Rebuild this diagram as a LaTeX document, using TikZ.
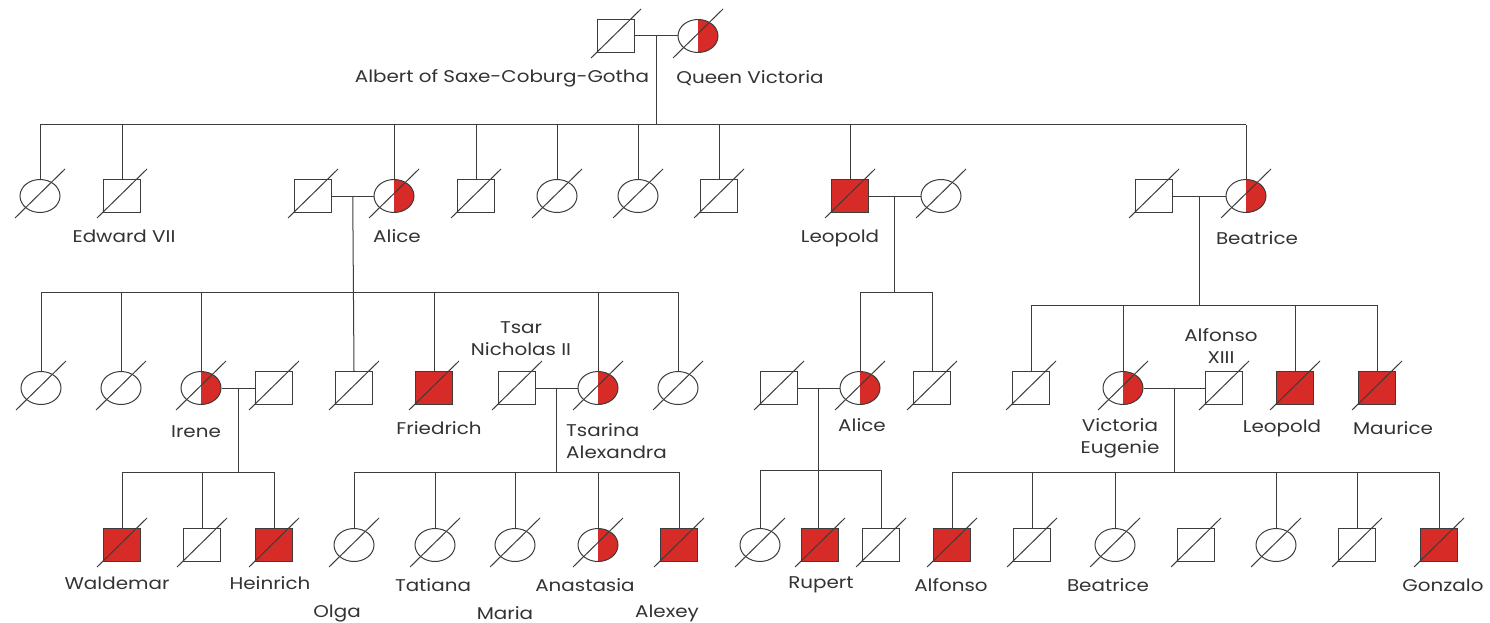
\documentclass[tikz,border=0pt]{standalone}
\usepackage{fontspec}
\newfontfamily\pedfont[FakeStretch=1.17]{Poppins}
\usetikzlibrary{shapes.geometric,positioning}
\definecolor{hemred}{RGB}{214,43,38}
\definecolor{linegray}{RGB}{60,60,60}
\tikzset{
  person/.style={draw=linegray, line width=1pt, inner sep=0pt},
  male/.style={person, rectangle, minimum width=37, minimum height=33},
  female/.style={person, ellipse, minimum width=40, minimum height=33},
  affected/.style={fill=hemred},
  carrier/.style={path picture={\fill[hemred] (path picture bounding box.north) rectangle (path picture bounding box.south east);}},
  lbl/.style={font=\pedfont\fontsize{17}{22}\selectfont, text=black!80, inner sep=0pt},
  link/.style={draw=linegray, line width=1pt},
}
\begin{document}
\begin{tikzpicture}[x=1pt,y=-1pt]
\fill[white] (0,0) rectangle (1490,623);
\useasboundingbox (0,0) rectangle (1490,623);
% generation I
\node[male] (albert) at (616,36) {};
\node[female,carrier] (victoria) at (698,36) {};
\node[lbl] (lalbert) at (502,78) {Albert of Saxe-Coburg-Gotha};
\node[lbl] (lvictoria) at (750,78) {Queen Victoria};
\draw[link] (albert) -- (victoria) coordinate[midway] (m1);
% generation II
\node[female] (g2a) at (40,196) {};
\node[male] (edward) at (122,196) {};
\node[male] (louis) at (313,196) {};
\node[female,carrier] (alice) at (394,196) {};
\node[male] (g2b) at (476,196) {};
\node[female] (g2c) at (557,196) {};
\node[female] (g2d) at (638,196) {};
\node[male] (g2e) at (719,196) {};
\node[male,affected] (leopold) at (850,196) {};
\node[female] (helena) at (941,196) {};
\node[male] (henry) at (1154,196) {};
\node[female,carrier] (beatrice) at (1246,196) {};
\node[lbl] (ledward) at (124,236) {Edward VII};
\node[lbl] (lalice) at (397,236) {Alice};
\node[lbl] (lleopold) at (840,238) {Leopold};
\node[lbl] (lbeatrice) at (1257,238) {Beatrice};
\coordinate (b2) at (0,125);
\draw[link] (m1) -- (m1 |- b2);
\draw[link] (g2a.north |- b2) -- (beatrice.north |- b2);
\foreach \c in {g2a,edward,alice,g2b,g2c,g2d,g2e,leopold,beatrice}
  \draw[link] (\c.north) -- (\c.north |- b2);
\draw[link] (louis) -- (alice) coordinate[midway] (m2);
\draw[link] (leopold) -- (helena) coordinate[midway] (m3);
\draw[link] (henry) -- (beatrice) coordinate[midway] (m4);
% generation III
\node[female] (g3a) at (41,388) {};
\node[female] (g3b) at (121,388) {};
\node[female,carrier] (irene) at (201,388) {};
\node[male] (heinrichp) at (274,388) {};
\node[male] (g3c) at (354,388) {};
\node[male,affected] (friedrich) at (434,388) {};
\node[male] (nicholas) at (517,388) {};
\node[female,carrier] (alexandra) at (598,388) {};
\node[female] (g3d) at (678,388) {};
\node[male] (andrew) at (779,388) {};
\node[female,carrier] (alice2) at (860,388) {};
\node[male] (g3e) at (932,388) {};
\node[male] (g3f) at (1031,388) {};
\node[female,carrier] (vicenie) at (1123,388) {};
\node[male] (alfonsoxiii) at (1224,388) {};
\node[male,affected] (leopold2) at (1295,388) {};
\node[male,affected] (maurice) at (1377,388) {};
\node[lbl] (lirene) at (196,432) {Irene};
\node[lbl] (lfriedrich) at (439,428) {Friedrich};
\node[lbl, align=center] (lnicholas) at (521,339) {Tsar\\Nicholas II};
\node[lbl, align=left, anchor=west] (lalexandra) at (566,441) {Tsarina\\Alexandra};
\node[lbl] (lalice2) at (862,425) {Alice};
\node[lbl, align=center] (lalfonsoxiii) at (1221,346) {Alfonso\\XIII};
\node[lbl, align=center] (lvicenie) at (1120,438) {Victoria\\Eugenie};
\node[lbl] (lleopold2) at (1282,428) {Leopold};
\node[lbl] (lmaurice) at (1393,428) {Maurice};
\coordinate (b3a) at (0,292);
\coordinate (b3b) at (0,305);
\draw[link] (m2) -- (g3c.north);
\draw[link] (g3a.north |- b3a) -- (g3d.north |- b3a);
\foreach \c in {g3a,g3b,irene,friedrich,alexandra,g3d}
  \draw[link] (\c.north) -- (\c.north |- b3a);
\draw[link] (m3) -- (m3 |- b3a);
\draw[link] (alice2.north |- b3a) -- (g3e.north |- b3a);
\foreach \c in {alice2,g3e}
  \draw[link] (\c.north) -- (\c.north |- b3a);
\draw[link] (m4) -- (m4 |- b3b);
\draw[link] (g3f.north |- b3b) -- (maurice.north |- b3b);
\foreach \c in {g3f,vicenie,leopold2,maurice}
  \draw[link] (\c.north) -- (\c.north |- b3b);
\draw[link] (irene) -- (heinrichp) coordinate[midway] (m5);
\draw[link] (nicholas) -- (alexandra) coordinate[midway] (m6);
\draw[link] (andrew) -- (alice2) coordinate[midway] (m7);
\draw[link] (vicenie) -- (alfonsoxiii) coordinate[midway] (m8);
% generation IV
\node[male,affected] (waldemar) at (122,545) {};
\node[male] (g4a) at (202,545) {};
\node[male,affected] (heinrich) at (274,545) {};
\node[female] (olga) at (354,545) {};
\node[female] (tatiana) at (435,545) {};
\node[female] (maria) at (515,545) {};
\node[female,carrier] (anastasia) at (598,545) {};
\node[male,affected] (alexey) at (679,545) {};
\node[female] (g4b) at (760,545) {};
\node[male,affected] (rupert) at (820,545) {};
\node[male] (g4c) at (881,545) {};
\node[male,affected] (alfonso) at (952,545) {};
\node[male] (g4d) at (1032,545) {};
\node[female] (beatrice2) at (1115,545) {};
\node[male] (g4e) at (1196,545) {};
\node[female] (g4f) at (1276,545) {};
\node[male] (g4g) at (1357,545) {};
\node[male,affected] (gonzalo) at (1439,545) {};
\node[lbl] (lwaldemar) at (117,583) {Waldemar};
\node[lbl] (lheinrich) at (270,583) {Heinrich};
\node[lbl] (lolga) at (337,613) {Olga};
\node[lbl] (ltatiana) at (433,585) {Tatiana};
\node[lbl] (lmaria) at (505,613) {Maria};
\node[lbl] (lanastasia) at (585,585) {Anastasia};
\node[lbl] (lalexey) at (667,613) {Alexey};
\node[lbl] (lrupert) at (821,585) {Rupert};
\node[lbl] (lalfonso) at (951,585) {Alfonso};
\node[lbl] (lbeatrice2) at (1108,585) {Beatrice};
\node[lbl] (lgonzalo) at (1443,585) {Gonzalo};
\coordinate (b4) at (0,472);
\coordinate (b4r) at (0,470);
\draw[link] (m5) -- (m5 |- b4);
\draw[link] (waldemar.north |- b4) -- (heinrich.north |- b4);
\foreach \c in {waldemar,g4a,heinrich}
  \draw[link] (\c.north) -- (\c.north |- b4);
\draw[link] (m6) -- (m6 |- b4);
\draw[link] (olga.north |- b4) -- (alexey.north |- b4);
\foreach \c in {olga,tatiana,maria,anastasia,alexey}
  \draw[link] (\c.north) -- (\c.north |- b4);
\draw[link] (m7) -- (m7 |- rupert.north);
\draw[link] (g4b.north |- b4r) -- (g4c.north |- b4r);
\foreach \c in {g4b,g4c}
  \draw[link] (\c.north) -- (\c.north |- b4r);
\draw[link] (m8) -- (m8 |- b4);
\draw[link] (alfonso.north |- b4) -- (gonzalo.north |- b4);
\foreach \c in {alfonso,g4d,beatrice2,g4f,g4g,gonzalo}
  \draw[link] (\c.north) -- (\c.north |- b4);
% deceased
\foreach \c in {albert,victoria,g2a,edward,louis,alice,g2b,g2c,g2d,g2e,leopold,helena,henry,beatrice,
    g3a,g3b,irene,heinrichp,g3c,friedrich,nicholas,alexandra,g3d,andrew,alice2,g3e,g3f,vicenie,alfonsoxiii,leopold2,maurice,
    waldemar,g4a,heinrich,olga,tatiana,maria,anastasia,alexey,g4b,rupert,g4c,alfonso,g4d,beatrice2,g4e,g4f,g4g,gonzalo}
  \draw[link] ([shift={(-25,22)}]\c.center) -- ([shift={(25,-27)}]\c.center);
\end{tikzpicture}
\end{document}
